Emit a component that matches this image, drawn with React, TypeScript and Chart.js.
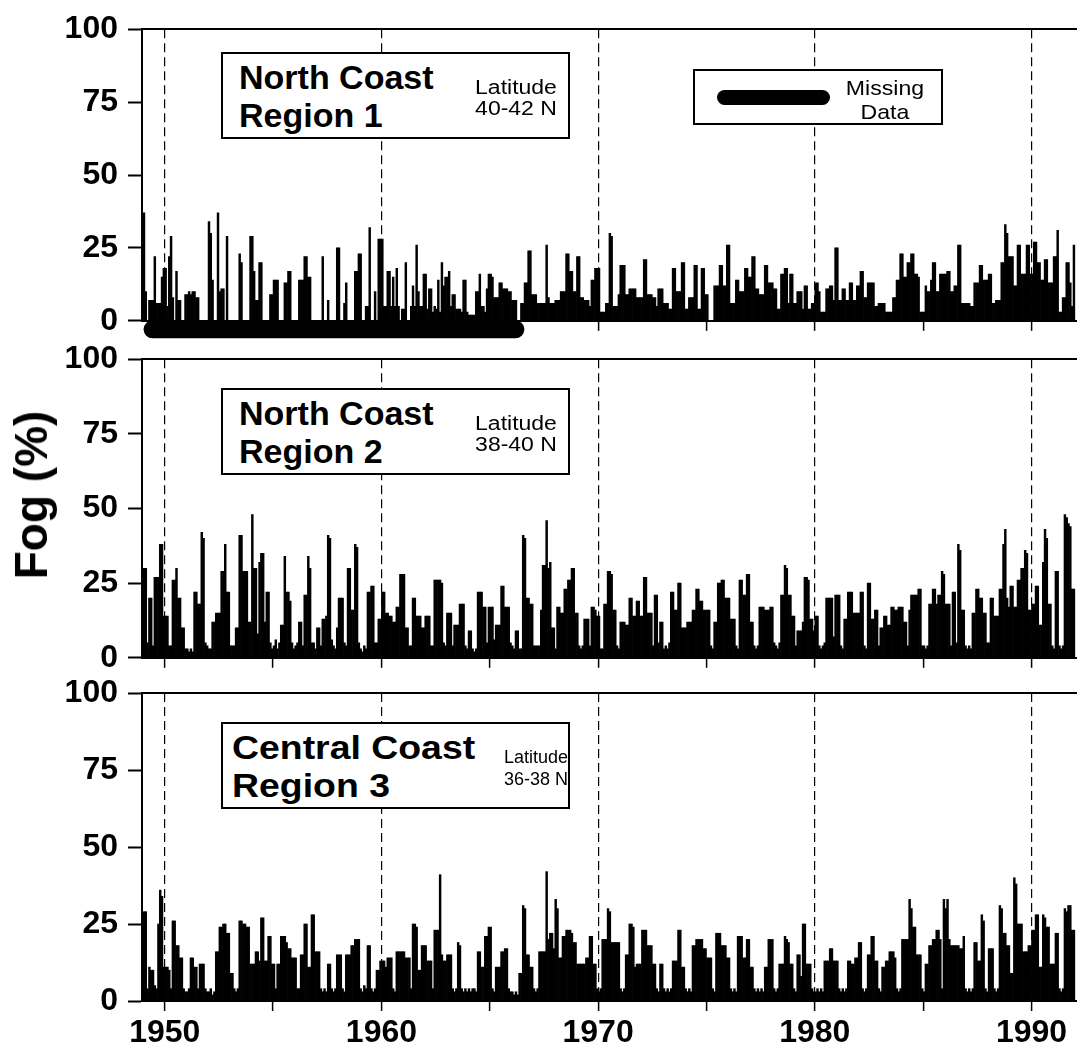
import React, { useEffect, useRef } from "react";
import { Chart, registerables } from "chart.js";

Chart.register(...registerables);

const FONT = '"Liberation Sans", Arial, Helvetica, sans-serif';

// ---------- data ----------
const years = [
  1949, 1950, 1951, 1952, 1953, 1954, 1955, 1956, 1957, 1958, 1959, 1960, 1961, 1962, 1963,
  1964, 1965, 1966, 1967, 1968, 1969, 1970, 1971, 1972, 1973, 1974, 1975, 1976, 1977, 1978,
  1979, 1980, 1981, 1982, 1983, 1984, 1985, 1986, 1987, 1988, 1989, 1990, 1991,
];

// monthly fog (%) — one row per year, Jan..Dec
const fogRegion1 = [
  37, 10, 0, 7, 7, 7, 22, 6, 6, 6, 15, 18,
  18, 5, 22, 29, 8, 0, 17, 7, 7, 0, 0, 9,
  9, 10, 9, 10, 10, 8, 8, 0, 0, 0, 0, 0,
  34, 30, 14, 0, 0, 37, 10, 11, 11, 0, 29, 0,
  0, 0, 0, 0, 0, 23, 20, 0, 0, 0, 0, 29,
  29, 17, 7, 7, 20, 20, 0, 0, 0, 0, 9, 9,
  14, 14, 14, 0, 0, 0, 13, 13, 17, 17, 0, 0,
  0, 0, 14, 14, 14, 22, 22, 15, 15, 0, 0, 0,
  0, 0, 0, 22, 0, 0, 7, 0, 0, 0, 0, 25,
  25, 0, 0, 6, 13, 0, 0, 0, 0, 17, 17, 23,
  23, 0, 0, 5, 5, 32, 0, 0, 10, 0, 28, 28,
  28, 5, 5, 17, 17, 5, 15, 5, 18, 5, 0, 4,
  4, 20, 0, 0, 5, 12, 5, 26, 10, 5, 5, 16,
  16, 4, 11, 11, 3, 5, 4, 14, 3, 20, 12, 15,
  15, 17, 5, 9, 9, 4, 4, 4, 3, 14, 14, 3,
  2, 2, 2, 2, 10, 10, 16, 5, 5, 3, 11, 16,
  16, 15, 8, 8, 8, 13, 13, 11, 11, 11, 10, 10,
  7, 7, 7, 0, 0, 6, 6, 13, 13, 24, 24, 9,
  9, 9, 6, 6, 6, 6, 6, 26, 8, 6, 6, 6,
  7, 7, 7, 10, 10, 10, 23, 23, 17, 17, 10, 10,
  22, 22, 8, 8, 7, 7, 7, 5, 14, 14, 18, 18,
  18, 3, 3, 3, 6, 6, 30, 29, 5, 5, 5, 9,
  19, 19, 19, 9, 9, 11, 11, 11, 11, 8, 8, 8,
  8, 21, 21, 9, 9, 9, 8, 8, 5, 11, 11, 11,
  6, 6, 6, 4, 4, 18, 18, 10, 10, 10, 20, 20,
  4, 4, 8, 8, 8, 19, 19, 4, 4, 18, 18, 9,
  9, 0, 0, 0, 12, 12, 12, 19, 19, 12, 12, 26,
  26, 6, 6, 6, 14, 14, 10, 10, 10, 18, 18, 15,
  15, 22, 22, 11, 11, 9, 9, 9, 19, 19, 13, 13,
  13, 11, 11, 4, 4, 16, 16, 18, 18, 6, 16, 16,
  6, 6, 10, 10, 10, 4, 12, 12, 4, 4, 6, 6,
  13, 13, 10, 3, 3, 3, 11, 11, 12, 12, 7, 25,
  25, 7, 7, 11, 11, 7, 7, 13, 13, 7, 7, 12,
  12, 17, 17, 8, 8, 13, 13, 13, 13, 5, 5, 6,
  6, 6, 6, 3, 3, 3, 3, 8, 8, 14, 14, 23,
  23, 15, 15, 20, 20, 23, 23, 16, 16, 15, 3, 3,
  3, 12, 10, 10, 14, 20, 20, 10, 10, 16, 16, 16,
  16, 17, 17, 10, 10, 12, 12, 26, 26, 6, 6, 6,
  6, 6, 5, 5, 13, 13, 13, 19, 19, 14, 14, 14,
  16, 16, 6, 6, 7, 7, 7, 20, 20, 33, 30, 22,
  22, 22, 12, 12, 26, 26, 16, 16, 16, 26, 26, 16,
  16, 27, 27, 20, 20, 14, 14, 21, 21, 13, 13, 13,
  22, 22, 31, 3, 3, 8, 8, 20, 20, 13, 5, 26,
];

const fogRegion2 = [
  30, 30, 5, 20, 20, 4, 27, 27, 27, 38, 38, 14,
  14, 14, 4, 4, 26, 26, 30, 20, 20, 10, 10, 3,
  3, 2, 3, 2, 22, 22, 18, 18, 42, 40, 5, 4,
  3, 3, 12, 12, 15, 15, 15, 29, 29, 38, 22, 22,
  4, 4, 4, 10, 10, 41, 41, 29, 29, 29, 12, 12,
  48, 30, 30, 8, 32, 35, 35, 12, 22, 22, 5, 3,
  4, 6, 3, 5, 11, 11, 34, 22, 22, 19, 5, 3,
  4, 5, 12, 12, 4, 21, 21, 34, 30, 5, 5, 3,
  10, 10, 4, 13, 13, 14, 41, 40, 6, 4, 3, 10,
  20, 20, 20, 5, 4, 30, 30, 16, 16, 38, 37, 5,
  3, 2, 4, 3, 22, 22, 24, 24, 5, 5, 13, 13,
  22, 22, 15, 15, 14, 14, 12, 12, 17, 17, 28, 28,
  28, 10, 10, 4, 4, 20, 20, 14, 14, 14, 10, 10,
  14, 14, 14, 4, 4, 26, 26, 26, 26, 25, 5, 4,
  15, 15, 15, 4, 11, 11, 11, 18, 18, 18, 4, 3,
  9, 9, 3, 2, 3, 22, 22, 22, 17, 17, 5, 17,
  17, 17, 6, 11, 11, 11, 24, 24, 17, 17, 17, 5,
  4, 3, 9, 9, 3, 3, 41, 40, 20, 20, 18, 18,
  4, 4, 4, 4, 16, 31, 31, 46, 30, 32, 10, 10,
  3, 17, 17, 15, 15, 23, 23, 26, 26, 30, 30, 15,
  15, 4, 3, 4, 13, 13, 13, 4, 17, 17, 16, 14,
  14, 3, 3, 18, 18, 29, 29, 28, 16, 16, 4, 3,
  12, 12, 12, 11, 11, 20, 20, 14, 14, 19, 19, 14,
  14, 27, 27, 15, 15, 15, 4, 21, 21, 5, 12, 12,
  3, 4, 3, 5, 22, 22, 16, 16, 25, 25, 10, 10,
  10, 12, 12, 12, 16, 16, 23, 23, 19, 19, 16, 16,
  16, 16, 4, 3, 12, 12, 25, 25, 26, 26, 20, 20,
  20, 13, 13, 13, 4, 3, 26, 26, 21, 21, 28, 28,
  12, 12, 4, 3, 4, 17, 17, 17, 16, 16, 16, 17,
  17, 5, 4, 3, 5, 21, 21, 31, 30, 21, 21, 14,
  14, 4, 9, 9, 9, 12, 27, 27, 26, 13, 13, 9,
  14, 14, 4, 3, 4, 5, 20, 20, 20, 20, 7, 21,
  21, 21, 4, 3, 13, 13, 22, 22, 22, 15, 15, 15,
  15, 22, 22, 4, 3, 25, 25, 13, 13, 16, 16, 4,
  10, 10, 14, 14, 11, 11, 17, 17, 16, 16, 17, 17,
  17, 12, 12, 4, 16, 21, 21, 21, 21, 23, 23, 4,
  4, 3, 4, 18, 18, 23, 23, 18, 21, 21, 29, 28,
  18, 18, 18, 4, 22, 22, 5, 38, 36, 16, 16, 4,
  3, 4, 3, 15, 15, 23, 23, 20, 20, 15, 15, 5,
  5, 20, 20, 14, 14, 14, 23, 23, 38, 43, 20, 17,
  24, 24, 17, 17, 26, 26, 30, 30, 36, 35, 16, 16,
  18, 18, 24, 24, 11, 11, 32, 43, 40, 18, 18, 4,
  3, 29, 29, 4, 3, 4, 48, 47, 45, 44, 23, 23,
];

const fogRegion3 = [
  29, 29, 4, 11, 10, 10, 5, 4, 25, 36, 34, 11,
  11, 11, 10, 4, 26, 26, 18, 18, 14, 14, 4, 3,
  3, 4, 14, 14, 11, 11, 4, 12, 12, 12, 4, 3,
  3, 4, 2, 3, 16, 16, 24, 24, 25, 25, 22, 22,
  9, 9, 4, 3, 4, 26, 26, 25, 25, 24, 24, 12,
  12, 12, 16, 16, 13, 27, 27, 13, 13, 21, 21, 12,
  12, 4, 12, 12, 21, 21, 21, 19, 17, 17, 14, 14,
  14, 4, 4, 15, 15, 25, 25, 11, 11, 28, 28, 16,
  16, 16, 4, 3, 4, 3, 12, 12, 4, 3, 4, 15,
  15, 15, 4, 3, 15, 15, 15, 18, 18, 20, 20, 20,
  4, 3, 5, 4, 18, 18, 4, 3, 4, 10, 10, 13,
  13, 13, 11, 14, 14, 14, 4, 3, 16, 16, 16, 16,
  16, 14, 14, 14, 4, 25, 25, 24, 10, 10, 18, 18,
  18, 13, 13, 13, 4, 23, 23, 23, 41, 15, 13, 13,
  15, 15, 15, 4, 3, 4, 19, 18, 4, 3, 4, 3,
  4, 3, 4, 4, 3, 16, 16, 11, 11, 21, 21, 24,
  24, 4, 3, 11, 11, 11, 16, 16, 17, 17, 4, 3,
  3, 2, 3, 2, 9, 9, 31, 30, 15, 15, 11, 11,
  4, 3, 4, 16, 16, 16, 16, 42, 20, 22, 22, 17,
  33, 30, 14, 14, 21, 21, 23, 23, 23, 22, 19, 19,
  12, 12, 12, 12, 12, 14, 14, 21, 21, 12, 12, 4,
  3, 4, 20, 20, 20, 30, 29, 19, 19, 19, 19, 19,
  4, 3, 4, 15, 15, 25, 25, 24, 11, 12, 12, 12,
  23, 23, 23, 18, 18, 18, 12, 12, 4, 3, 12, 12,
  4, 3, 4, 3, 4, 13, 13, 13, 23, 23, 11, 11,
  4, 3, 4, 3, 18, 18, 20, 20, 20, 20, 17, 17,
  14, 14, 14, 4, 3, 22, 22, 22, 18, 18, 18, 14,
  14, 4, 3, 4, 3, 21, 21, 21, 14, 14, 20, 20,
  11, 11, 4, 3, 4, 3, 4, 3, 11, 11, 20, 20,
  20, 4, 3, 4, 12, 12, 12, 21, 20, 19, 12, 12,
  4, 3, 15, 15, 8, 25, 25, 12, 12, 12, 4, 3,
  3, 4, 3, 4, 3, 13, 13, 13, 17, 17, 13, 13,
  13, 4, 3, 4, 3, 4, 13, 13, 12, 12, 14, 14,
  19, 19, 4, 3, 4, 15, 15, 21, 21, 13, 13, 4,
  3, 11, 11, 13, 13, 16, 16, 16, 14, 4, 3, 4,
  20, 20, 20, 20, 33, 30, 24, 24, 15, 15, 15, 4,
  3, 12, 12, 18, 18, 20, 20, 23, 23, 20, 4, 33,
  30, 33, 20, 18, 18, 18, 18, 18, 17, 17, 21, 4,
  3, 4, 3, 4, 19, 19, 13, 13, 28, 26, 4, 3,
  17, 17, 17, 4, 3, 4, 31, 30, 22, 22, 18, 18,
  9, 9, 40, 38, 25, 25, 25, 16, 16, 16, 18, 18,
  23, 23, 28, 28, 11, 11, 28, 27, 24, 24, 12, 12,
  12, 22, 22, 4, 3, 4, 30, 29, 31, 31, 23, 23,
];

const yTicks = [0, 25, 50, 75, 100];
const xTickYears = [1950, 1955, 1960, 1965, 1970, 1975, 1980, 1985, 1990];
const xRange = [1948.95, 1992.1];
const missingDataSpan = [1949.44, 1966.18]; // Region 1 missing-data bar
const missingDataLevel = -2.93;

const regionTitles = ["North Coast", "North Coast", "Central Coast"];
const regionNames = ["Region 1", "Region 2", "Region 3"];
const regionLatitudes = ["40-42 N", "38-40 N", "36-38 N"];

// ---------- chart panel ----------
type PanelProps = {
  values: number[];
  top: number;
  height: number;
  padTop: number;
  axisHeight: number;
  showLabels: boolean;
  missing: boolean;
};

function Panel({ values, top, height, padTop, axisHeight, showLabels, missing }: PanelProps) {
  const ref = useRef<HTMLCanvasElement | null>(null);

  useEffect(() => {
    const points = values.map((v, i) => ({
      x: years[Math.floor(i / 12)] + ((i % 12) + 0.5) / 12,
      y: v,
    }));
    const datasets: any[] = [
      {
        type: "bar",
        data: points,
        backgroundColor: "#000",
        borderWidth: 0,
        barPercentage: 1,
        categoryPercentage: 1,
        order: 2,
      },
    ];
    if (missing) {
      datasets.push({
        type: "line",
        data: [
          { x: missingDataSpan[0], y: missingDataLevel },
          { x: missingDataSpan[1], y: missingDataLevel },
        ],
        borderColor: "#000",
        borderWidth: 18,
        borderCapStyle: "round",
        pointRadius: 0,
        clip: false,
        order: 1,
      });
    }
    const tickFont = { family: FONT, size: 32, weight: "bold" };
    const chart = new Chart(ref.current as HTMLCanvasElement, {
      type: "bar",
      data: { datasets },
      options: {
        responsive: false,
        animation: false,
        devicePixelRatio: 1,
        events: [],
        layout: { padding: { top: padTop, left: 0, right: 0, bottom: 0 } },
        plugins: { legend: { display: false }, tooltip: { enabled: false } },
        scales: {
          x: {
            type: "linear",
            position: "bottom",
            min: xRange[0],
            max: xRange[1],
            offset: false,
            afterBuildTicks: (s: any) => {
              s.ticks = xTickYears.map((v) => ({ value: v }));
            },
            afterFit: (s: any) => {
              s.height = axisHeight;
            },
            grid: {
              offset: false,
              drawOnChartArea: true,
              drawTicks: true,
              color: (c: any) =>
                c.tick && c.tick.value % 10 === 0 ? "#000" : "rgba(0,0,0,0)",
              lineWidth: 1.2,
              tickLength: 10,
              tickColor: "#000",
              tickWidth: 1.5,
            },
            border: { display: true, color: "#000", width: 2, dash: [9, 5] },
            ticks: {
              display: showLabels,
              autoSkip: false,
              maxRotation: 0,
              padding: 3,
              color: "#000",
              font: tickFont,
              callback: (v: any) => (Number(v) % 10 === 0 ? String(v) : ""),
            },
          },
          xTop: {
            type: "linear",
            position: "top",
            min: xRange[0],
            max: xRange[1],
            afterFit: (s: any) => {
              s.height = 0;
            },
            grid: { display: false },
            ticks: { display: false },
            border: { display: true, color: "#000", width: 2 },
          },
          y: {
            type: "linear",
            min: 0,
            max: 100,
            afterBuildTicks: (s: any) => {
              s.ticks = yTicks.map((v) => ({ value: v }));
            },
            afterFit: (s: any) => {
              s.width = 142;
            },
            grid: {
              drawOnChartArea: false,
              drawTicks: true,
              color: "#000",
              tickLength: 14,
              tickColor: "#000",
              tickWidth: 2,
            },
            border: { display: true, color: "#000", width: 2 },
            ticks: {
              padding: 10,
              color: "#000",
              font: tickFont,
            },
          },
        },
      } as any,
    });
    return () => chart.destroy();
  }, []);

  return (
    <canvas
      ref={ref}
      width={1077}
      height={height}
      style={{ position: "absolute", left: 0, top, width: 1077, height }}
    />
  );
}

// ---------- annotation boxes ----------
function RegionBox({
  idx,
  top,
  titleLeft,
  titleStretch,
  latCenter,
  latSize,
  latStretch,
}: {
  idx: number;
  top: number;
  titleLeft: number;
  titleStretch: number;
  latCenter: number;
  latSize: number;
  latStretch: number;
}) {
  const bold = (t: string, baseline: number) => (
    <div
      style={{
        position: "absolute",
        left: titleLeft - 223,
        top: baseline - 0.8465 * 34,
        fontFamily: FONT,
        fontWeight: "bold",
        fontSize: 34,
        lineHeight: "34px",
        whiteSpace: "nowrap",
        transform: `scaleX(${titleStretch})`,
        transformOrigin: "left center",
      }}
    >
      {t}
    </div>
  );
  const small = (t: string, baseline: number) => (
    <div
      style={{
        position: "absolute",
        left: latCenter - 223 - 50,
        width: 100,
        top: baseline - 0.8465 * latSize,
        fontFamily: FONT,
        fontSize: latSize,
        lineHeight: `${latSize}px`,
        textAlign: "center",
        whiteSpace: "nowrap",
        transform: `scaleX(${latStretch})`,
      }}
    >
      {t}
    </div>
  );
  return (
    <div
      style={{
        position: "absolute",
        left: 221,
        top,
        width: 349,
        height: 87,
        border: "2px solid #000",
        boxSizing: "border-box",
        background: "#fff",
      }}
    >
      {bold(regionTitles[idx], 36.5 - 2)}
      {bold(regionNames[idx], 75 - 2)}
      {small("Latitude", 41.5 - 2)}
      {small(regionLatitudes[idx], 63 - 2)}
    </div>
  );
}

function MissingLegend() {
  return (
    <div
      style={{
        position: "absolute",
        left: 693,
        top: 69,
        width: 250,
        height: 56,
        border: "2px solid #000",
        boxSizing: "border-box",
        background: "#fff",
      }}
    >
      <div
        style={{
          position: "absolute",
          left: 22,
          top: 19,
          width: 113,
          height: 15,
          borderRadius: 7.5,
          background: "#000",
        }}
      />
      {["Missing", "Data"].map((t, i) => (
        <div
          key={t}
          style={{
            position: "absolute",
            left: 140,
            width: 100,
            top: (i === 0 ? 95 : 118.5) - 69 - 2 - 0.8465 * 21,
            fontFamily: FONT,
            fontSize: 21,
            lineHeight: "21px",
            textAlign: "center",
            whiteSpace: "nowrap",
            transform: "scaleX(1.1)",
          }}
        >
          {t}
        </div>
      ))}
    </div>
  );
}

export default function App() {
  return (
    <div
      style={{
        position: "absolute",
        left: 0,
        top: 0,
        width: 1077,
        height: 1060,
        background: "#fff",
        overflow: "hidden",
      }}
    >
      <Panel values={fogRegion1} top={0} height={350} padTop={20.7} axisHeight={22} showLabels={false} missing={true} />
      <Panel values={fogRegion2} top={329} height={358} padTop={30.3} axisHeight={22} showLabels={false} missing={false} />
      <Panel values={fogRegion3} top={663} height={397} padTop={30} axisHeight={59} showLabels={true} missing={false} />
      <RegionBox idx={0} top={52} titleLeft={239} titleStretch={1} latCenter={516} latSize={20} latStretch={1.15} />
      <RegionBox idx={1} top={388} titleLeft={239} titleStretch={1} latCenter={516} latSize={20} latStretch={1.15} />
      <RegionBox idx={2} top={722} titleLeft={232} titleStretch={1.1} latCenter={536} latSize={18} latStretch={1} />
      <MissingLegend />
      <div
        style={{
          position: "absolute",
          left: 31,
          top: 495,
          transform: "translate(-50%, -50%) rotate(-90deg)",
          fontFamily: FONT,
          fontWeight: "bold",
          fontSize: 46,
          lineHeight: "46px",
          whiteSpace: "nowrap",
        }}
      >
        Fog (%)
      </div>
    </div>
  );
}
